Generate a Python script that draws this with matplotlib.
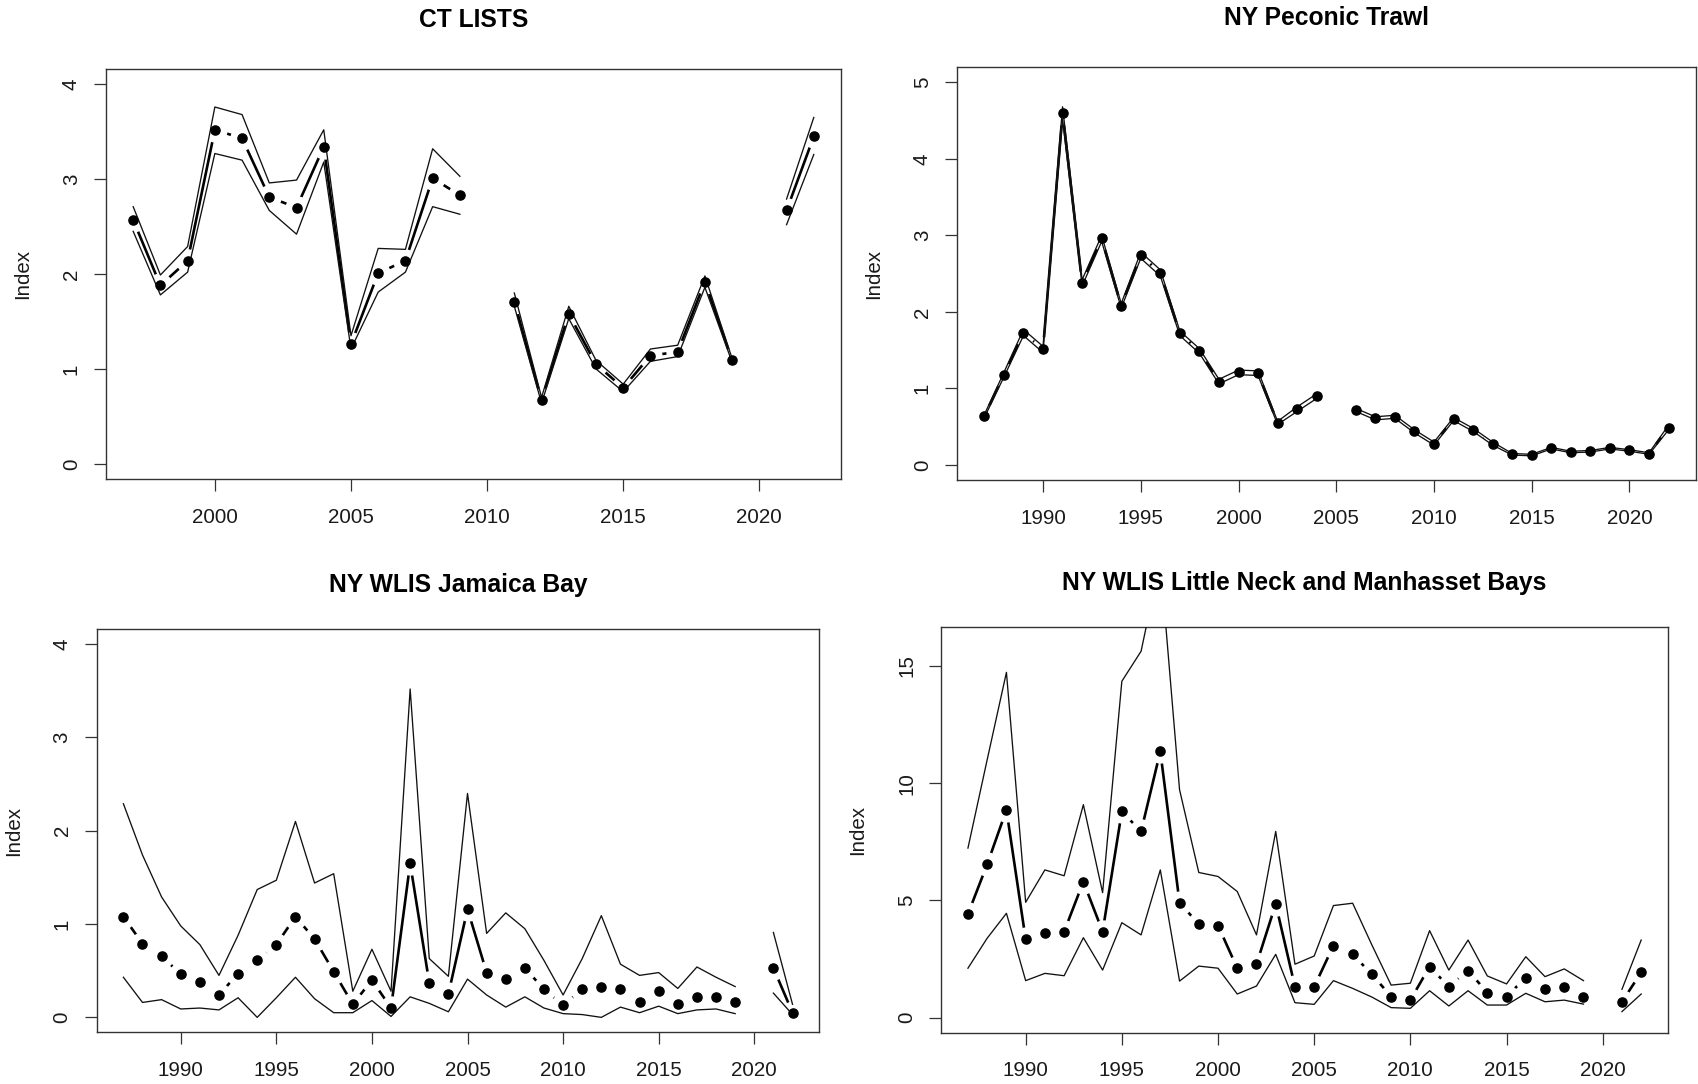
import numpy as np
import matplotlib
matplotlib.use("Agg")
import matplotlib.pyplot as plt

plt.rcParams['font.family'] = ['Liberation Sans', 'DejaVu Sans']

nan = np.nan

# CT LISTS survey, 1997-2022
ct_years = np.arange(1997, 2023)
ct_index = [2.57, 1.88, 2.14, 3.52, 3.43, 2.81, 2.70, 3.34, 1.26, 2.01, 2.14, 3.01, 2.83,
            nan, 1.71, 0.67, 1.58, 1.05, 0.80, 1.14, 1.18, 1.92, 1.09, nan, 2.67, 3.45]
ct_upper = [2.71, 1.99, 2.29, 3.76, 3.68, 2.96, 2.99, 3.52, 1.35, 2.27, 2.26, 3.32, 3.03,
            nan, 1.80, 0.70, 1.66, 1.09, 0.84, 1.21, 1.25, 1.98, 1.11, nan, 2.79, 3.65]
ct_lower = [2.45, 1.78, 2.02, 3.27, 3.20, 2.67, 2.42, 3.18, 1.21, 1.81, 2.02, 2.71, 2.63,
            nan, 1.66, 0.64, 1.53, 1.00, 0.76, 1.08, 1.13, 1.86, 1.07, nan, 2.52, 3.26]

# NY Peconic trawl, 1987-2022
pec_years = np.arange(1987, 2023)
pec_index = [0.64, 1.18, 1.73, 1.51, 4.60, 2.38, 2.96, 2.08, 2.74, 2.51, 1.72, 1.49, 1.09,
             1.21, 1.20, 0.55, 0.73, 0.90, nan, 0.72, 0.61, 0.63, 0.44, 0.28, 0.60, 0.46,
             0.28, 0.14, 0.13, 0.22, 0.17, 0.18, 0.22, 0.19, 0.15, 0.49]
pec_upper = [0.66, 1.21, 1.77, 1.55, 4.68, 2.42, 3.00, 2.11, 2.78, 2.55, 1.75, 1.52, 1.12,
             1.24, 1.23, 0.57, 0.76, 0.93, nan, 0.74, 0.63, 0.65, 0.46, 0.30, 0.62, 0.48,
             0.30, 0.15, 0.14, 0.23, 0.18, 0.19, 0.23, 0.20, 0.16, 0.52]
pec_lower = [0.62, 1.15, 1.69, 1.47, 4.52, 2.34, 2.92, 2.05, 2.70, 2.47, 1.69, 1.46, 1.06,
             1.18, 1.17, 0.53, 0.70, 0.87, nan, 0.70, 0.59, 0.61, 0.42, 0.26, 0.58, 0.44,
             0.26, 0.13, 0.12, 0.21, 0.16, 0.17, 0.21, 0.18, 0.14, 0.46]

# NY WLIS Jamaica Bay, 1987-2022
jb_years = np.arange(1987, 2023)
jb_index = [1.08, 0.79, 0.66, 0.46, 0.38, 0.24, 0.47, 0.61, 0.78, 1.08, 0.84, 0.49, 0.14,
            0.40, 0.10, 1.65, 0.37, 0.25, 1.16, 0.48, 0.41, 0.53, 0.30, 0.13, 0.30, 0.33,
            0.30, 0.17, 0.28, 0.14, 0.22, 0.22, 0.16, nan, 0.53, 0.05]
jb_upper = [2.29, 1.74, 1.29, 0.98, 0.78, 0.45, 0.88, 1.37, 1.47, 2.10, 1.44, 1.54, 0.28,
            0.73, 0.28, 3.52, 0.63, 0.44, 2.40, 0.90, 1.12, 0.95, 0.61, 0.24, 0.63, 1.09,
            0.57, 0.45, 0.48, 0.31, 0.54, 0.43, 0.33, nan, 0.91, 0.14]
jb_lower = [0.43, 0.16, 0.19, 0.09, 0.10, 0.08, 0.21, 0.00, 0.21, 0.43, 0.20, 0.05, 0.05,
            0.18, 0.01, 0.22, 0.15, 0.06, 0.41, 0.24, 0.11, 0.22, 0.10, 0.04, 0.03, 0.00,
            0.11, 0.05, 0.12, 0.04, 0.08, 0.09, 0.04, nan, 0.26, 0.03]

# NY WLIS Little Neck and Manhasset Bays, 1987-2022
ln_years = np.arange(1987, 2023)
ln_index = [4.42, 6.54, 8.86, 3.34, 3.63, 3.67, 5.80, 3.67, 8.79, 7.94, 11.35, 4.91, 3.98,
            3.93, 2.11, 2.28, 4.85, 1.32, 1.32, 3.07, 2.70, 1.85, 0.90, 0.75, 2.18, 1.32,
            2.01, 1.07, 0.90, 1.71, 1.21, 1.32, 0.90, nan, 0.68, 1.93]
ln_upper = [7.23, 11.00, 14.72, 4.92, 6.30, 6.05, 9.08, 5.33, 14.34, 15.62, 19.50, 9.72, 6.19,
            6.02, 5.38, 3.53, 7.94, 2.28, 2.63, 4.78, 4.88, 3.10, 1.39, 1.47, 3.71, 2.03,
            3.31, 1.78, 1.44, 2.60, 1.75, 2.08, 1.58, nan, 1.21, 3.31]
ln_lower = [2.11, 3.39, 4.45, 1.58, 1.89, 1.79, 3.41, 2.03, 4.05, 3.53, 6.30, 1.56, 2.20,
            2.11, 1.01, 1.35, 2.70, 0.64, 0.57, 1.58, 1.25, 0.88, 0.43, 0.40, 1.15, 0.50,
            1.15, 0.54, 0.54, 1.04, 0.68, 0.75, 0.58, nan, 0.26, 1.01]


def r_range(lo, hi):
    # base-R style 4% padding on each side
    d = (hi - lo) * 0.04
    return lo - d, hi + d


def draw_panel(ax, title, years, index, lower, upper, ytop, xticks, yticks, tpad):
    index = np.asarray(index, float)
    ok = ~np.isnan(index)
    # main series, broken around the points like type="b"
    ax.plot(years, index, color='black', lw=1.9, solid_capstyle='butt', zorder=2)
    ax.plot(years[ok], index[ok], ls='none', marker='o', ms=16.5,
            mfc='white', mec='white', zorder=3)
    ax.plot(years, upper, color='#111111', lw=0.95, zorder=4)
    ax.plot(years, lower, color='#111111', lw=0.95, zorder=4)
    ax.plot(years[ok], index[ok], ls='none', marker='o', ms=6.6,
            mfc='black', mec='black', zorder=5)

    ax.set_xlim(*r_range(years.min(), years.max()))
    ax.set_ylim(*r_range(0, ytop))
    ax.set_xticks(xticks)
    ax.set_yticks(yticks)
    ax.tick_params(direction='out', length=8.6, width=0.9, color='#333333',
                   labelsize=14.8, labelcolor='#1a1a1a')
    ax.tick_params(axis='x', pad=12.0)
    ax.tick_params(axis='y', pad=9.4)
    for lab in ax.get_yticklabels():
        lab.set_rotation(90)
        lab.set_va('center')
    for sp in ax.spines.values():
        sp.set_color('#333333')
        sp.set_linewidth(1.0)
    ax.set_title(title, fontsize=17.7, fontweight='bold', pad=tpad)
    ax.set_ylabel('Index', fontsize=14.8, color='#1a1a1a')
    ax.yaxis.set_label_coords(-0.1 * 0.4329 / ax.get_position().width, 0.5)


fig = plt.figure(figsize=(16.98, 10.84), dpi=100)
ax1 = fig.add_axes([0.0624, 0.5581, 0.4329, 0.3782])
ax2 = fig.add_axes([0.5636, 0.5569, 0.4352, 0.3813])
ax3 = fig.add_axes([0.0569, 0.0477, 0.4256, 0.3718])
ax4 = fig.add_axes([0.5542, 0.0473, 0.4282, 0.3740])

draw_panel(ax1, 'CT LISTS', ct_years, ct_index, ct_lower, ct_upper, 4,
           [2000, 2005, 2010, 2015, 2020], [0, 1, 2, 3, 4], 30)
draw_panel(ax2, 'NY Peconic Trawl', pec_years, pec_index, pec_lower, pec_upper, 5,
           [1990, 1995, 2000, 2005, 2010, 2015, 2020], [0, 1, 2, 3, 4, 5], 30)
draw_panel(ax3, 'NY WLIS Jamaica Bay', jb_years, jb_index, jb_lower, jb_upper, 4,
           [1990, 1995, 2000, 2005, 2010, 2015, 2020], [0, 1, 2, 3, 4], 27)
draw_panel(ax4, 'NY WLIS Little Neck and Manhasset Bays', ln_years, ln_index,
           ln_lower, ln_upper, 16,
           [1990, 1995, 2000, 2005, 2010, 2015, 2020], [0, 5, 10, 15], 27)

fig.savefig('out.png', dpi=100, facecolor='white')
